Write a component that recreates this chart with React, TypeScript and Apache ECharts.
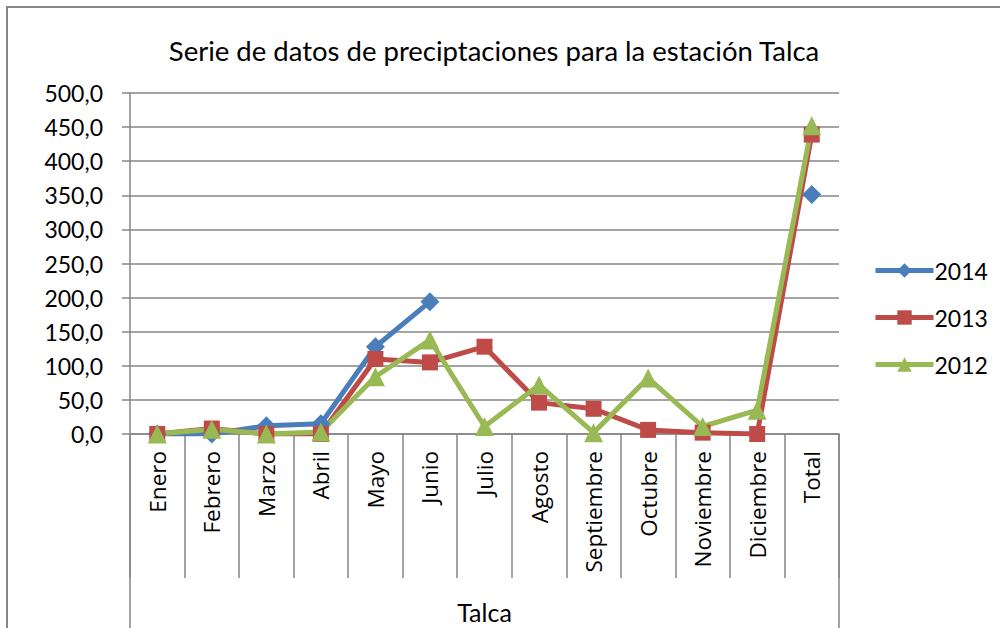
import React, { useEffect, useRef } from "react";
import * as echarts from "echarts";

const categories = ["Enero", "Febrero", "Marzo", "Abril", "Mayo", "Junio", "Julio", "Agosto", "Septiembre", "Octubre", "Noviembre", "Diciembre", "Total"];
const groupLabel = ["Talca"];
const s2014 = [0, 0, 12, 15, 128, 194, null, null, null, null, null, null, 351];
const s2013 = [0, 8, 0, 0, 110, 105, 128, 46, 37, 6, 2, 0, 439];
const s2012 = [0, 7, 0, 3, 84, 138, 11, 72, 2, 82, 11, 35, 452];
const titleText = "Serie de datos de preciptaciones para la estación Talca";

const FONT = "Lato";
const LABEL_FONT = "Open Sans";
const GRAY = "#868686";

export default function App() {
  const ref = useRef<HTMLDivElement>(null);
  useEffect(() => {
    if (!ref.current) return;
    const chart = echarts.init(ref.current, null, { renderer: "svg" });
    const mkSeries = (name: string, data: any[], color: string, symbol: string, size: number) => ({
      name,
      type: "line",
      data,
      xAxisIndex: 0,
      symbol,
      symbolSize: size,
      connectNulls: false,
      lineStyle: { color, width: 5 },
      itemStyle: { color },
    });
    chart.setOption({
      animation: false,
      backgroundColor: "#fff",
      textStyle: { fontFamily: FONT },
      title: {
        text: titleText,
        left: 489,
        textAlign: "center",
        top: 31,
        textStyle: { fontFamily: FONT, fontSize: 27.5, fontWeight: "normal", color: "#000" },
      },
      legend: {
        orient: "vertical",
        left: 868,
        top: 254,
        itemWidth: 58,
        itemHeight: 18,
        itemGap: 24,
        lineStyle: { width: 5 },
        textStyle: { fontFamily: FONT, fontSize: 23, color: "#000", padding: [0, 0, 0, -4] },
        data: ["2014", "2013", "2012"],
      },
      grid: { left: 130, right: 161, top: 93, bottom: 194, containLabel: false },
      xAxis: [
        {
          type: "category",
          data: categories,
          boundaryGap: true,
          axisLine: { lineStyle: { color: GRAY, width: 1.5 } },
          axisTick: { show: true, length: 144, interval: 0, lineStyle: { color: GRAY, width: 1.5 } },
          axisLabel: { rotate: 90, margin: 17, interval: 0, fontFamily: LABEL_FONT, fontSize: 22.5, color: "#000" },
        },
        {
          type: "category",
          data: groupLabel,
          position: "bottom",
          boundaryGap: true,
          axisLine: { show: false },
          axisTick: { show: true, length: 200, interval: 0, lineStyle: { color: GRAY, width: 1.5 } },
          axisLabel: { margin: 165, fontFamily: FONT, fontSize: 25, color: "#000" },
        },
      ],
      yAxis: {
        type: "value",
        min: 0,
        max: 500,
        interval: 50,
        axisLine: { show: true, lineStyle: { color: GRAY, width: 1.5 } },
        axisTick: { show: true, length: 8, lineStyle: { color: GRAY, width: 1.5 } },
        splitLine: { lineStyle: { color: GRAY, width: 1.5 } },
        axisLabel: {
          margin: 27,
          fontFamily: FONT,
          fontSize: 23,
          color: "#000",
          formatter: (v: number) => v.toFixed(1).replace(".", ","),
        },
      },
      graphic: [
        {
          type: "rect",
          shape: { x: 7, y: 7, width: 1100, height: 700 },
          style: { fill: "none", stroke: GRAY, lineWidth: 2 },
          silent: true,
        },
      ],
      series: [
        mkSeries("2014", s2014, "#4A7EBB", "diamond", 19),
        mkSeries("2013", s2013, "#BE4B48", "rect", 16),
        mkSeries("2012", s2012, "#98B954", "triangle", 19),
      ],
    });
    return () => chart.dispose();
  }, []);
  return <div ref={ref} style={{ position: "fixed", left: 0, top: 0, width: 1000, height: 628 }} />;
}
